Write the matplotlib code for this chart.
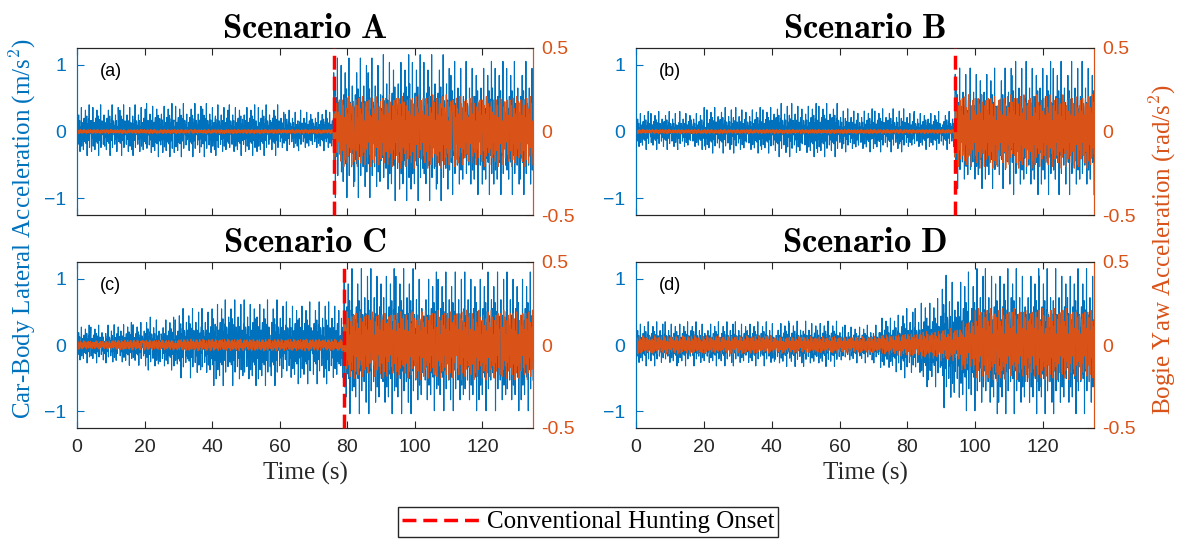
import numpy as np
import matplotlib
matplotlib.use("Agg")
import matplotlib.pyplot as plt

plt.rcParams['mathtext.fontset'] = 'cm'

BLUE = '#0072BD'
ORANGE = '#D95319'
DARK = '#262626'

# sampling of the drawn traces (samples per second), time span 0-135 s
fs_blue = 10
fs_orange = 6
t_end = 135

# envelope knots (s) and peak amplitude per segment
# blue = car-body lateral acc. (m/s^2), orange = bogie yaw acc. (rad/s^2)
knots_a = [0, 20, 40, 60, 76, 90, 110, 135]
blue_a = [0.40, 0.42, 0.40, 0.32, 1.10, 1.15, 1.05]
orange_a = [0.012, 0.012, 0.012, 0.012, 0.21, 0.22, 0.21]

knots_b = [0, 20, 40, 60, 80, 94, 110, 135]
blue_b = [0.30, 0.36, 0.42, 0.34, 0.30, 0.95, 1.05]
orange_b = [0.012, 0.012, 0.012, 0.012, 0.012, 0.22, 0.22]

knots_c = [0, 10, 20, 30, 40, 60, 79, 100, 135]
blue_c = [0.30, 0.34, 0.42, 0.55, 0.68, 0.65, 1.15, 1.10]
orange_c = [0.025, 0.03, 0.03, 0.035, 0.035, 0.035, 0.20, 0.21]

knots_d = [0, 20, 40, 60, 72, 78, 84, 90, 96, 100, 135]
blue_d = [0.35, 0.35, 0.36, 0.30, 0.45, 0.55, 0.70, 1.05, 1.10, 1.15]
orange_d = [0.055, 0.055, 0.05, 0.05, 0.06, 0.07, 0.08, 0.10, 0.15, 0.22]

# onset times of conventional hunting (s); None = not marked
onsets = [76, 94, 79, None]
titles = ['A', 'B', 'C', 'D']
tags = ['(a)', '(b)', '(c)', '(d)']

# fixed texture tables (fraction of envelope) giving the noisy look
tex_blue = [0.35, -0.12, 0.22, -0.48, 0.1, 0.62, -0.3, -0.08, 0.41, -0.75,
            0.18, 0.05, -0.26, 0.9, -0.55, 0.14, -0.2, 0.33, -0.04, -0.68,
            0.27, 0.5, -0.38, 0.07, -0.16, 0.8, -0.44, 0.2, -0.1, 0.58,
            -0.9, 0.3, 0.12, -0.34, 0.46, -0.22, 1.0, -0.6, 0.16, -0.06, 0.4]
tex_orange = [0.9, -0.55, 0.75, -1.0, 0.4, -0.8, 0.95, -0.35, 0.65, -0.9,
              0.5, -0.7, 1.0, -0.45, 0.8, -0.6, 0.3, -0.95, 0.7, -0.5,
              0.85, -0.75, 0.55, -0.3, 0.9, -0.65, 0.45, -0.85, 0.6]


def trace(knots, amps, tex, shift, fs):
    t = np.arange(0, t_end + 1e-9, 1 / fs)
    seg = np.clip(np.searchsorted(knots, t, side='right') - 1, 0, len(amps) - 1)
    env = np.array(amps)[seg]
    n = len(tex)
    i = np.arange(len(t))
    idx = (i + (i // n) * shift) % n
    return t, env * np.array(tex)[idx]


scen = [(knots_a, blue_a, orange_a), (knots_b, blue_b, orange_b),
        (knots_c, blue_c, orange_c), (knots_d, blue_d, orange_d)]

W, H = 1182, 543
fig = plt.figure(figsize=(W / 100, H / 100), dpi=100)

boxes = [(77, 48, 533, 215), (636, 48, 1094, 215),
         (77, 262, 533, 428), (636, 262, 1094, 428)]

onset_handle = None
for k, (kn, bl, orr) in enumerate(scen):
    x0, y0, x1, y1 = boxes[k]
    ax = fig.add_axes([x0 / W, 1 - y1 / H, (x1 - x0) / W, (y1 - y0) / H])
    ax2 = ax.twinx()

    tb, yb = trace(kn, bl, tex_blue, 7 + k * 3, fs_blue)
    to, yo = trace(kn, orr, tex_orange, 5 + k, fs_orange)
    ax.plot(tb, yb, color=BLUE, lw=0.8)
    ax2.plot(to, yo, color=ORANGE, lw=0.8)

    ax.set_xlim(0, 135)
    ax.set_ylim(-1.25, 1.25)
    ax2.set_ylim(-0.5, 0.5)
    ax.set_xticks([0, 20, 40, 60, 80, 100, 120])
    ax.set_yticks([-1, 0, 1])
    ax2.set_yticks([-0.5, 0, 0.5])
    ax2.set_yticklabels(['-0.5', '0', '0.5'])

    ax.tick_params(axis='x', direction='in', top=True, colors=DARK,
                   labelsize=14, length=5, pad=8)
    ax.tick_params(axis='y', direction='in', colors=BLUE, labelsize=14,
                   length=5, pad=8)
    ax2.tick_params(axis='y', direction='in', colors=ORANGE, labelsize=14,
                    length=5, pad=6)
    for lab in ax.get_xticklabels() + ax.get_yticklabels() + ax2.get_yticklabels():
        lab.set_fontfamily('Liberation Sans')
    if k < 2:
        ax.tick_params(axis='x', labelbottom=False)
    else:
        ax.set_xlabel('Time (s)', fontsize=18, family='Liberation Serif',
                      color=DARK, labelpad=4)

    for a in (ax, ax2):
        a.spines['top'].set_color(DARK)
        a.spines['bottom'].set_color(DARK)
        a.spines['left'].set_color(BLUE)
        a.spines['right'].set_color(ORANGE)

    ax.set_title(r'$\mathbf{Scenario\ %s}$' % titles[k], fontsize=25, pad=7)
    ax.text(0.05, 0.83, tags[k], transform=ax.transAxes, fontsize=13,
            family='Liberation Sans', color='black')

    if onsets[k] is not None:
        onset_handle, = ax2.plot([onsets[k], onsets[k]], [-0.5, 0.5], color='red',
                                 lw=2.5, ls=(0, (4, 2)), zorder=5, clip_on=False)

fig.text(23 / W, 1 - 229 / H, r'Car-Body Lateral Acceleration (m/s$^2$)',
         rotation=90, ha='center', va='center', fontsize=18,
         family='Liberation Serif', color=BLUE)
fig.text(1163 / W, 1 - 249 / H, r'Bogie Yaw Acceleration (rad/s$^2$)',
         rotation=90, ha='center', va='center', fontsize=18,
         family='Liberation Serif', color=ORANGE)

leg = fig.legend([onset_handle], ['Conventional Hunting Onset'],
                 loc='upper center', bbox_to_anchor=(588 / W, 1 - 507 / H),
                 fancybox=False, framealpha=1, edgecolor=DARK, handlelength=3.2,
                 handletextpad=0.2, borderpad=0.15, borderaxespad=0,
                 prop={'family': 'Liberation Serif', 'size': 18})
leg.get_frame().set_linewidth(1.0)

fig.savefig('out.png', dpi=100)
